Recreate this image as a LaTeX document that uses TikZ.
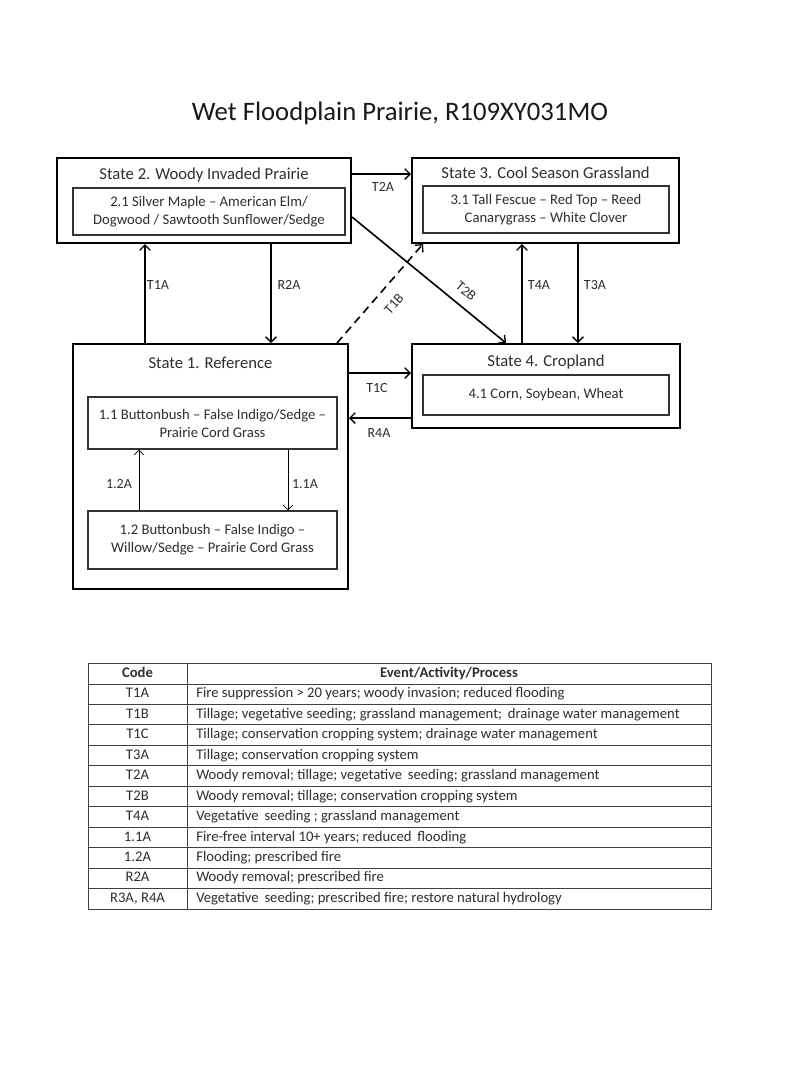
\documentclass[tikz,border=0pt]{standalone}
\usepackage{fontspec}
\setmainfont{Carlito}
\usetikzlibrary{arrows.meta}
\definecolor{txt}{rgb}{0.18,0.18,0.18}
\begin{document}
\begin{tikzpicture}[x=0.75pt,y=-0.75pt,
  outer/.style={draw=black,line width=1.5pt,inner sep=0pt},
  inner/.style={draw=black!80,line width=0.8pt,inner sep=0pt,align=center,text=txt,font=\fontsize{11}{13.5}\selectfont},
  stitle/.style={text=txt,font=\fontsize{12.5}{14}\selectfont,inner sep=0pt},
  lbl/.style={text=txt,font=\fontsize{10.5}{12}\selectfont,inner sep=0pt},
  arr/.style={line width=1.2pt,-{Straight Barb[length=4pt,width=8pt,line width=1pt]}},
  sarr/.style={line width=0.6pt,-{Straight Barb[length=3.5pt,width=7pt,line width=0.6pt]}},
  cell/.style={text=txt,font=\fontsize{11}{12}\selectfont,inner sep=0pt,text height=7.5pt,text depth=2pt},
  tline/.style={draw=black!75,line width=0.7pt}]
\useasboundingbox (0,0) rectangle (800,1065);
\fill[white] (0,0) rectangle (800,1065);
% title
\node[font=\fontsize{20}{23}\selectfont,text=black!90,inner sep=0pt] (title) at (400,113) {Wet Floodplain Prairie, R109XY031MO};
% State 2
\node[outer,minimum width=220.5pt,minimum height=63.75pt] (s2) at (204,200.5) {};
\node[stitle] (s2t) at (204,175) {State 2. Woody Invaded Prairie};
\node[inner,minimum width=204pt,minimum height=35.25pt] (b21) at (209,211.5) {2.1 Silver Maple – American Elm/\\Dogwood / Sawtooth Sunflower/Sedge};
% State 3
\node[outer,minimum width=200.25pt,minimum height=63.75pt] (s3) at (545.5,200.5) {};
\node[stitle] (s3t) at (545.5,173) {State 3. Cool Season Grassland};
\node[inner,minimum width=184.5pt,minimum height=35.25pt] (b31) at (546,209.5) {3.1 Tall Fescue – Red Top – Reed\\Canarygrass – White Clover};
% State 1
\node[outer,minimum width=206.25pt,minimum height=183.75pt] (s1) at (210.5,466.5) {};
\node[stitle] (s1t) at (210.5,363) {State 1. Reference};
\node[inner,minimum width=186.75pt,minimum height=39pt] (b11) at (212.5,423) {1.1 Buttonbush – False Indigo/Sedge –\\Prairie Cord Grass};
\node[inner,minimum width=186.75pt,minimum height=43.5pt] (b12) at (212.5,540) {1.2 Buttonbush – False Indigo –\\Willow/Sedge – Prairie Cord Grass};
% State 4
\node[outer,minimum width=201pt,minimum height=63pt] (s4) at (546,386) {};
\node[stitle] (s4t) at (546,362) {State 4. Cropland};
\node[inner,minimum width=184.5pt,minimum height=30pt] (b41) at (546,395) {4.1 Corn, Soybean, Wheat};
% connectors
\draw[arr] (s1.north -| 145,0) -- (s2.south -| 145,0);
\node[lbl] (lT1A) at (158,285) {T1A};
\draw[arr] (s2.south -| 271,0) -- (s1.north -| 271,0);
\node[lbl] (lR2A) at (289,285) {R2A};
\draw[arr] (s2.east |- 0,174) -- (s3.west |- 0,174);
\node[lbl] (lT2A) at (383,187) {T2A};
\draw[arr,dashed,dash pattern=on 6pt off 4pt] (s1.north -| 337,0) -- (s3.south -| 423,0);
\node[lbl,rotate=48] (lT1B) at (394,304) {T1B};
\draw[arr] (s2.east |- 0,217) -- (s4.north -| 506,0);
\node[lbl,rotate=-39] (lT2B) at (466,291) {T2B};
\draw[arr] (s4.north -| 522,0) -- (s3.south -| 522,0);
\node[lbl] (lT4A) at (539,285) {T4A};
\draw[arr] (s3.south -| 578,0) -- (s4.north -| 578,0);
\node[lbl] (lT3A) at (595,285) {T3A};
\draw[arr] (s1.east |- 0,373) -- (s4.west |- 0,373);
\node[lbl] (lT1C) at (377,388) {T1C};
\draw[arr] (s4.west |- 0,418) -- (s1.east |- 0,418);
\node[lbl] (lR4A) at (379,433) {R4A};
\draw[sarr] (b12.north -| 139,0) -- (b11.south -| 139,0);
\node[lbl] (l12A) at (119,484) {1.2A};
\draw[sarr] (b11.south -| 288,0) -- (b12.north -| 288,0);
\node[lbl] (l11A) at (305,484) {1.1A};
% table
\draw[tline] (88,663) rectangle (711,909);
\draw[tline] (187,663) -- (187,909);
\draw[tline] (88,684) -- (711,684);
\foreach \k in {1,...,10} {\draw[tline] (88,684+20.45*\k) -- (711,684+20.45*\k);}
\node[cell,font=\bfseries\fontsize{11}{12}\selectfont] (hc) at (137.5,673.5) {Code};
\node[cell,font=\bfseries\fontsize{11}{12}\selectfont] (he) at (449,673.5) {Event/Activity/Process};
\foreach \c/\d [count=\i from 0] in {
 T1A/{Fire suppression > 20 years; woody invasion; reduced flooding},
 T1B/{Tillage; vegetative seeding; grassland management;\, drainage water management},
 T1C/{Tillage; conservation cropping system; drainage water management},
 T3A/{Tillage; conservation cropping system},
 T2A/{Woody removal; tillage; vegetative\, seeding; grassland management},
 T2B/{Woody removal; tillage; conservation cropping system},
 T4A/{Vegetative\, seeding ; grassland management},
 1.1A/{Fire-free interval 10+ years; reduced\, flooding},
 1.2A/{Flooding; prescribed fire},
 R2A/{Woody removal; prescribed fire},
 {R3A, R4A}/{Vegetative\, seeding; prescribed fire; restore natural hydrology}} {
 \node[cell] (c\i) at (137.5,694.2+20.45*\i) {\c};
 \node[cell,anchor=west] (d\i) at (196,694.2+20.45*\i) {\d};
}
\end{tikzpicture}
\end{document}
